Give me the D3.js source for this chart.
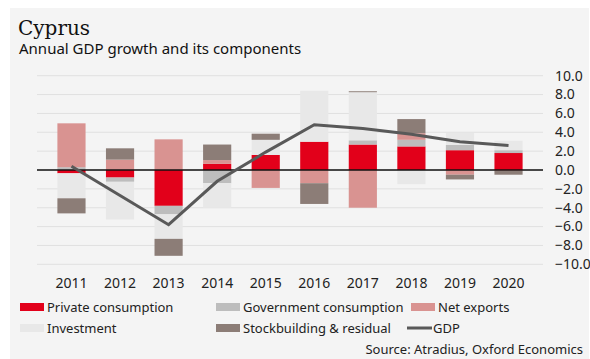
<!DOCTYPE html>
<html lang="en">
<head>
<meta charset="UTF-8">
<title>Cyprus</title>
<script src="https://cdn.jsdelivr.net/npm/d3@7"></script>
<style>
    body { margin: 0; background: #fff; }
    text { font-family: "Noto Sans", sans-serif; fill: #222; }
</style>
</head>
<body>
<svg width="590" height="359"></svg>
<script>
    // values
    var years = ["2011", "2012", "2013", "2014", "2015", "2016", "2017", "2018", "2019", "2020"];
    var privateCons = [-0.35, -0.8, -3.8, 0.65, 1.6, 3.0, 2.7, 2.5, 2.1, 1.8];
    var govCons = [0.3, -0.45, -0.9, -1.4, 0.0, 0.0, 0.45, 0.7, 0.55, 0.3];
    var netExports = [4.65, 1.1, 3.25, 0.4, -1.9, -1.4, -4.0, 0.7, -0.5, -0.1];
    var investment = [-2.65, -4.0, -2.6, -2.6, 1.6, 5.4, 5.1, -1.5, 1.3, 1.0];
    var stockbuilding = [-1.6, 1.2, -1.8, 1.65, 0.65, -2.2, 0.1, 1.5, -0.5, -0.4];
    var gdp = [0.4, -2.7, -5.8, -1.2, 1.9, 4.8, 4.4, 3.8, 3.0, 2.6];
    var yTicks = [10, 8, 6, 4, 2, 0, -2, -4, -6, -8, -10];

    var series = [
        {key: "priv", name: "Private consumption", values: privateCons, color: "#e2001a"},
        {key: "gov", name: "Government consumption", values: govCons, color: "#bdbdbd"},
        {key: "net", name: "Net exports", values: netExports, color: "#d99391"},
        {key: "inv", name: "Investment", values: investment, color: "#e8e8e8"},
        {key: "stock", name: "Stockbuilding & residual", values: stockbuilding, color: "#8c7d77"}
    ];

    var svg = d3.select("svg");

    // grey panel
    svg.append("rect").attr("x", 10).attr("y", 8).attr("width", 579).attr("height", 351).attr("fill", "#f4f4f4");

    svg.append("text").attr("x", 18).attr("y", 35)
        .style("font-family", "'DejaVu Serif', serif").style("font-size", "20px").style("fill", "#111")
        .text("Cyprus");
    svg.append("text").attr("x", 19).attr("y", 54)
        .style("font-size", "15px").style("fill", "#111")
        .text("Annual GDP growth and its components");

    var x = d3.scaleBand().domain(years).range([37, 543]).padding(0.42);
    var y = d3.scaleLinear().domain([-10, 10]).range([264.3, 75.7]);

    // gridlines
    svg.append("g").selectAll("line")
        .data(yTicks)
        .enter()
        .append("line")
        .attr("x1", 37).attr("x2", 543)
        .attr("y1", function (d) { return y(d); })
        .attr("y2", function (d) { return y(d); })
        .attr("stroke", "#e0e0e0").attr("stroke-width", 1);

    // y labels on the right
    svg.append("g").selectAll("text")
        .data(yTicks)
        .enter()
        .append("text")
        .attr("x", 555)
        .attr("y", function (d) { return y(d); })
        .attr("dy", "0.35em")
        .style("font-size", "14px")
        .text(function (d) { return d3.format(".1f")(d); });

    // stacked bars
    var table = years.map(function (yr, i) {
        var row = {year: yr};
        series.forEach(function (s) { row[s.key] = s.values[i]; });
        return row;
    });
    var stack = d3.stack()
        .keys(series.map(function (s) { return s.key; }))
        .offset(d3.stackOffsetDiverging);
    var layers = stack(table);

    svg.append("g").selectAll("g")
        .data(layers)
        .enter()
        .append("g")
        .attr("fill", function (d, i) { return series[i].color; })
        .selectAll("rect")
        .data(function (d) { return d; })
        .enter()
        .append("rect")
        .attr("x", function (d) { return x(d.data.year); })
        .attr("width", x.bandwidth())
        .attr("y", function (d) { return y(Math.max(d[0], d[1])); })
        .attr("height", function (d) { return Math.abs(y(d[0]) - y(d[1])); });

    // zero line
    svg.append("line")
        .attr("x1", 37).attr("x2", 543)
        .attr("y1", y(0)).attr("y2", y(0))
        .attr("stroke", "#111").attr("stroke-width", 1.5);

    // GDP line
    var line = d3.line()
        .x(function (d, i) { return x(years[i]) + x.bandwidth() / 2; })
        .y(function (d) { return y(d); });
    svg.append("path")
        .datum(gdp)
        .attr("d", line)
        .attr("fill", "none")
        .attr("stroke", "#595959")
        .attr("stroke-width", 3);

    // x labels
    svg.append("g").selectAll("text")
        .data(years)
        .enter()
        .append("text")
        .attr("x", function (d) { return x(d) + x.bandwidth() / 2; })
        .attr("y", 288)
        .attr("text-anchor", "middle")
        .style("font-size", "14px")
        .text(function (d) { return d; });

    // legend
    var legendPos = [
        {x: 20, y: 307}, {x: 216, y: 307}, {x: 411, y: 307},
        {x: 20, y: 328}, {x: 216, y: 328}
    ];
    var legend = svg.append("g");
    series.forEach(function (s, i) {
        var p = legendPos[i];
        legend.append("rect").attr("x", p.x).attr("y", p.y - 4).attr("width", 24).attr("height", 8).attr("fill", s.color);
        legend.append("text").attr("x", p.x + 27).attr("y", p.y).attr("dy", "0.35em")
            .style("font-size", "13px").text(s.name);
    });
    legend.append("line").attr("x1", 407).attr("x2", 432).attr("y1", 328).attr("y2", 328)
        .attr("stroke", "#595959").attr("stroke-width", 3);
    legend.append("text").attr("x", 433).attr("y", 328).attr("dy", "0.35em")
        .style("font-size", "13px").text("GDP");

    svg.append("text").attr("x", 583).attr("y", 349).attr("dy", "0.35em")
        .attr("text-anchor", "end").style("font-size", "13px")
        .text("Source: Atradius, Oxford Economics");
</script>
</body>
</html>
